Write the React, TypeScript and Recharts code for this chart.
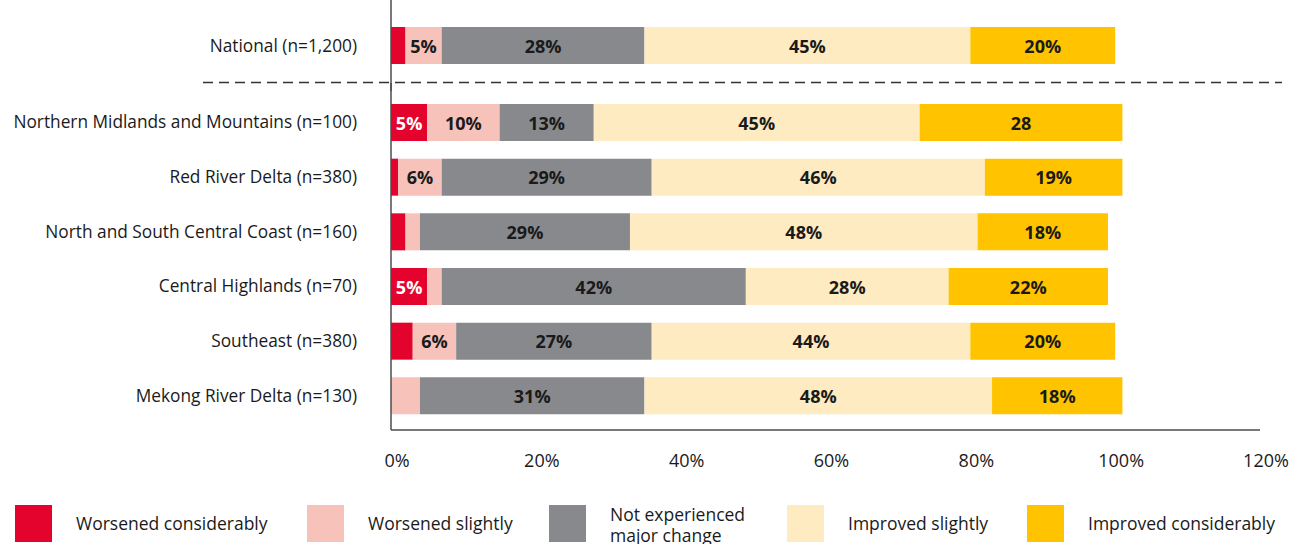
import { BarChart, Bar, XAxis, YAxis, LabelList } from "recharts";

const rowLabels = [
  "National (n=1,200)",
  "Northern Midlands and Mountains (n=100)",
  "Red River Delta (n=380)",
  "North and South Central Coast (n=160)",
  "Central Highlands (n=70)",
  "Southeast (n=380)",
  "Mekong River Delta (n=130)",
];

// shares in %, one value per row above
const worsenedConsiderably = [2, 5, 1, 2, 5, 3, 0];
const worsenedSlightly = [5, 10, 6, 2, 2, 6, 4];
const notChanged = [28, 13, 29, 29, 42, 27, 31];
const improvedSlightly = [45, 45, 46, 48, 28, 44, 48];
const improvedConsiderably = [20, 28, 19, 18, 22, 20, 18];

const xTicks = [0, 20, 40, 60, 80, 100, 120];

// the source prints this one segment without the % sign
const labelOverrides: Record<string, string> = {
  "1|improvedConsiderably": "28",
};

const SERIES = [
  { key: "worsenedConsiderably", name: "Worsened considerably", color: "#E4032C", text: "#ffffff", values: worsenedConsiderably },
  { key: "worsenedSlightly", name: "Worsened slightly", color: "#F6C2BA", text: "#1a1a1a", values: worsenedSlightly },
  { key: "notChanged", name: "Not experienced major change", color: "#88898D", text: "#1a1a1a", values: notChanged },
  { key: "improvedSlightly", name: "Improved slightly", color: "#FFEBC2", text: "#1a1a1a", values: improvedSlightly },
  { key: "improvedConsiderably", name: "Improved considerably", color: "#FFC300", text: "#1a1a1a", values: improvedConsiderably },
];

const rows = rowLabels.map((name, i) => {
  const row: any = { name };
  SERIES.forEach((s) => {
    const v = s.values[i];
    row[s.key] = v;
    row[s.key + "Label"] = labelOverrides[`${i}|${s.key}`] ?? (v >= 5 ? `${v}%` : "");
  });
  return row;
});

const nationalRows = rows.slice(0, 1);
const regionRows = rows.slice(1);

const FONT = "'Open Sans', sans-serif";
const AXIS_COLOR = "#4d4d4d";
const LEGEND_WIDTHS = [292, 242, 238, 240, 274];

const SegmentLabel = (props: any) => {
  const { x, y, width, height, value, textColor } = props;
  if (!value) return null;
  return (
    <text
      x={x + width / 2}
      y={y + height / 2}
      textAnchor="middle"
      dominantBaseline="central"
      fill={textColor}
      fontSize={18}
      fontWeight={700}
      fontFamily={FONT}
    >
      {value}
    </text>
  );
};

function renderBars() {
  return SERIES.map((s) => (
    <Bar
      key={s.key}
      dataKey={s.key}
      name={s.name}
      stackId="a"
      fill={s.color}
      barSize={37}
      isAnimationActive={false}
    >
      <LabelList
        dataKey={s.key + "Label"}
        content={(p: any) => <SegmentLabel {...p} textColor={s.text} />}
      />
    </Bar>
  ));
}

const yAxisProps = {
  type: "category" as const,
  dataKey: "name",
  width: 391,
  tickLine: false,
  tickMargin: 28,
  axisLine: { stroke: AXIS_COLOR, strokeWidth: 1.5 },
  tick: { fill: "#1a1a1a", fontSize: 17.3, fontFamily: FONT },
  interval: 0 as const,
};

export default function App() {
  return (
    <div
      style={{
        position: "absolute",
        left: 0,
        top: 0,
        width: 1301,
        height: 544,
        background: "#ffffff",
        fontFamily: FONT,
        overflow: "hidden",
      }}
    >
      <div style={{ position: "absolute", left: 0, top: 0 }}>
        <BarChart
          layout="vertical"
          width={1301}
          height={91}
          data={nationalRows}
          margin={{ top: 0, right: 41, bottom: 0, left: 0 }}
        >
          <XAxis type="number" domain={[0, 120]} ticks={xTicks} hide />
          <YAxis {...yAxisProps} />
          {renderBars()}
        </BarChart>
      </div>

      <div style={{ position: "absolute", left: 0, top: 83 }}>
        <BarChart
          layout="vertical"
          width={1301}
          height={402}
          data={regionRows}
          margin={{ top: 0, right: 41, bottom: 0, left: 0 }}
        >
          <XAxis
            type="number"
            domain={[0, 120]}
            ticks={xTicks}
            tickFormatter={(v) => `${v}%`}
            tickLine={false}
            tickMargin={18}
            height={55}
            axisLine={{ stroke: AXIS_COLOR, strokeWidth: 1.5 }}
            tick={{ fill: "#1a1a1a", fontSize: 18, fontFamily: FONT, dx: 6 }}
          />
          <YAxis {...yAxisProps} padding={{ top: 12, bottom: 7 }} />
          {renderBars()}
        </BarChart>
      </div>

      <svg
        width={1301}
        height={544}
        style={{ position: "absolute", left: 0, top: 0, pointerEvents: "none" }}
      >
        <line x1={203} x2={1282} y1={82.5} y2={82.5} stroke="#333333" strokeWidth={1.3} strokeDasharray="10 6" />
      </svg>

      <div style={{ position: "absolute", left: 15, top: 505, display: "flex" }}>
        {SERIES.map((s, i) => (
          <div
            key={s.key}
            style={{ width: LEGEND_WIDTHS[i], height: 37, display: "flex", alignItems: "center" }}
          >
            <div style={{ width: 37, height: 37, background: s.color, flexShrink: 0 }} />
            <div
              style={{
                marginLeft: 24,
                fontSize: 17.5,
                lineHeight: "21px",
                color: "#1a1a1a",
                width: s.key === "notChanged" ? 150 : undefined,
                whiteSpace: s.key === "notChanged" ? "normal" : "nowrap",
                paddingTop: s.key === "notChanged" ? 2 : 0,
              }}
            >
              {s.name}
            </div>
          </div>
        ))}
      </div>
    </div>
  );
}
